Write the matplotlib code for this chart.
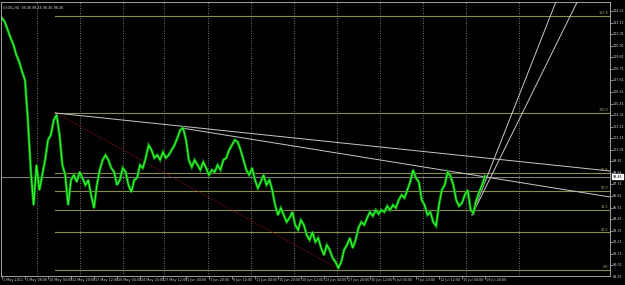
import numpy as np
import matplotlib
matplotlib.use("Agg")
from matplotlib import pyplot as plt
from matplotlib.transforms import blended_transform_factory

# chart header and last quote
symbol_title = "USOIL,H4  98.46 98.46 98.46 98.46"
last_price = 98.46

# right hand price scale
price_labels = ["88.91", "90.01", "91.11", "92.21", "93.31", "94.41", "95.51",
                "96.61", "97.71", "98.81", "99.91", "101.01", "102.11", "103.21",
                "104.31", "105.41", "106.51", "107.61", "108.71", "109.81",
                "110.91", "112.01", "113.11", "114.21"]

# bottom time scale, one label every 16 H4 bars
date_labels = ["1 May 2011", "3 May 08:00", "10 May 04:00", "12 May 20:00",
               "17 May 12:00", "20 May 04:00", "24 May 20:00", "27 May 12:00",
               "1 Jun 04:00", "3 Jun 20:00", "8 Jun 12:00", "13 Jun 04:00",
               "15 Jun 20:00", "20 Jun 12:00", "23 Jun 04:00", "27 Jun 20:00",
               "30 Jun 12:00", "5 Jul 04:00", "7 Jul 20:00", "12 Jul 12:00",
               "15 Jul 04:00", "19 Jul 20:00"]
bars_per_label = 16

# closes, read every second bar
closes = [113.54, 113.16, 112.40, 111.64, 110.98, 110.02, 109.36, 108.41, 107.65, 103.84,
          99.09, 95.76, 99.56, 97.18, 98.61, 100.04, 101.94, 102.42, 103.84, 104.32,
          102.42, 99.56, 98.61, 95.76, 98.14, 98.61, 97.95, 98.90, 98.33, 97.66,
          98.14, 96.71, 95.47, 97.66, 99.09, 100.04, 100.51, 100.04, 99.28, 98.90,
          97.66, 98.14, 99.28, 98.90, 97.66, 96.99, 98.14, 98.33, 99.56, 99.28,
          100.23, 101.46, 100.99, 100.23, 100.51, 100.04, 100.80, 100.23, 100.51, 100.99,
          101.46, 102.13, 102.89, 103.08, 101.94, 100.04, 99.37, 100.04, 99.56, 99.09,
          99.85, 99.28, 98.61, 99.09, 98.90, 99.56, 99.09, 100.04, 100.23, 100.99,
          101.46, 101.94, 101.75, 100.99, 100.04, 99.09, 98.61, 99.28, 98.14, 97.37,
          97.95, 98.61, 97.66, 98.14, 97.18, 95.76, 94.81, 95.47, 94.81, 94.14,
          94.52, 95.09, 93.86, 93.38, 94.33, 93.86, 92.90, 92.43, 93.19, 92.24,
          92.62, 91.67, 91.00, 91.95, 91.48, 90.72, 90.34, 89.77, 90.34, 91.48,
          91.95, 92.62, 91.67, 92.43, 93.57, 94.14, 93.86, 94.52, 95.09, 94.71,
          95.28, 94.90, 95.28, 95.09, 95.66, 95.28, 95.76, 95.47, 96.23, 96.71,
          96.42, 97.18, 97.95, 99.09, 98.33, 97.95, 96.23, 95.76, 94.81, 95.09,
          94.14, 93.76, 95.76, 97.18, 97.66, 98.90, 98.52, 97.66, 96.23, 95.66,
          95.95, 96.71, 97.18, 95.28, 95.00, 96.23, 96.99, 97.66, 98.52]
bar_step = 2

# fibonacci retracement drawn from the May high to the June low
fib_names = ["0.0", "23.6", "38.2", "50.0", "61.8", "100.0", "161.8"]
fib_ratios = [0.0, 0.236, 0.382, 0.5, 0.618, 1.0, 1.618]
fib_low = 89.62
fib_high = 104.55
fib_high_bar = 37
fib_low_bar = 235

# hand drawn trendlines (bar, price)
trend_a = [(37, 104.51), (423, 98.99)]
trend_b = [(125, 103.08), (423, 96.52)]
steep_1 = [(327, 94.81), (386, 115.3)]
steep_2 = [(327, 94.81), (401, 115.3)]

# weekly separators
grid_bars = [24, 54, 84, 113, 143, 173, 203, 233, 263, 293, 323, 360]

x_max = 423

fig = plt.figure(figsize=(6.25, 2.85), dpi=100, facecolor="black")
ax = fig.add_axes([1 / 625, 9 / 285, 609 / 625, 274 / 285], facecolor="black")
ax.set_xlim(-0.7, x_max)
ax.set_ylim(89.005, 115.065)

for b in grid_bars:
    ax.axvline(b, color="#9a9a9a", lw=0.6, ls=(0, (1, 2)))

fib_col = "#8c8c50"
for name, r in zip(fib_names, fib_ratios):
    p = fib_low + r * (fib_high - fib_low)
    ax.plot([fib_high_bar, x_max], [p, p], color=fib_col, lw=0.8)
    ax.text(x_max - 1, p + 0.06, name, ha="right", va="bottom",
            fontsize=2.4, color="#b0b070")

ax.axhline(last_price, color="#9a9a9a", lw=0.6)
ax.plot([fib_high_bar, fib_low_bar], [fib_high, fib_low], color="#a01010",
        lw=0.7, ls=(0, (1, 1.5)))

for line in (trend_a, trend_b, steep_1, steep_2):
    xs, ys = zip(*line)
    ax.plot(xs, ys, color="#c8c8c8", lw=0.7)

bars = np.arange(len(closes)) * bar_step
ax.plot(bars, closes, color="#0c8a0c", lw=2.0, solid_joinstyle="miter")
ax.plot(bars, closes, color="#33ff33", lw=0.8)

for s in ax.spines.values():
    s.set_color("#b8b8b8")
    s.set_linewidth(0.6)

yvals = [float(v) for v in price_labels]
ax.yaxis.tick_right()
ax.set_yticks([v for v in yvals if v > 89.005])
ax.set_xticks(np.arange(len(date_labels)) * bars_per_label)
ax.tick_params(colors="#b8b8b8", length=2, width=0.5, labelsize=0,
               labelleft=False, labelright=False, labelbottom=False)

ty = blended_transform_factory(ax.transAxes, ax.transData)
for lab, v in zip(price_labels, yvals):
    ax.text(1.004, v, lab, transform=ty, ha="left", va="center",
            fontsize=2.4, color="#d0d0d0", clip_on=False)

tx = blended_transform_factory(ax.transData, ax.transAxes)
for k, lab in enumerate(date_labels):
    ax.text(k * bars_per_label + 0.8, -0.006, lab, transform=tx, ha="left",
            va="top", fontsize=2.4, color="#d0d0d0", clip_on=False)

ax.text(1.004, last_price, "98.46", transform=ty, ha="left", va="center",
        fontsize=2.4, color="black", clip_on=False,
        bbox=dict(facecolor="white", edgecolor="white", pad=0.4))

ax.text(0.004, 0.985, symbol_title, transform=ax.transAxes, ha="left",
        va="top", fontsize=2.4, color="#d0d0d0")

fig.savefig("out.png", dpi=100, facecolor="black")
